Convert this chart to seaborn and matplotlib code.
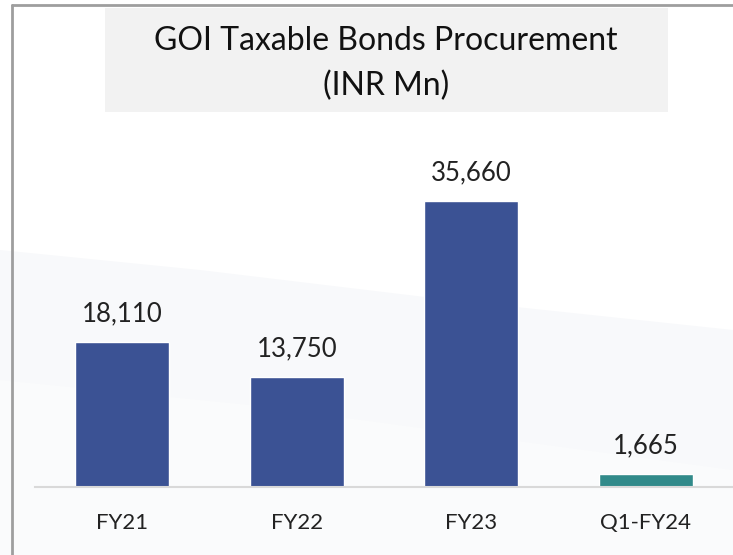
import matplotlib
matplotlib.use("Agg")
import matplotlib.pyplot as plt
import seaborn as sns
import pandas as pd
from matplotlib.patches import Rectangle, Polygon

# -------------------------------
# Data
# -------------------------------
periods = ["FY21", "FY22", "FY23", "Q1-FY24"]
procurement = [18110, 13750, 35660, 1665]
bar_colors = ["#3B5294", "#3B5294", "#3B5294", "#318A8A"]

df = pd.DataFrame({"period": periods, "value": procurement})

sns.set_theme(style="white")
plt.rcParams["font.family"] = ["Lato", "DejaVu Sans"]

W, H = 733, 555
fig = plt.figure(figsize=(W / 100, H / 100), dpi=100)
fig.patch.set_facecolor("white")

# -------------------------------
# Background decorations (pixel coords, y from top)
# -------------------------------
bg = fig.add_axes([0, 0, 1, 1], zorder=-1)
bg.set_xlim(0, W)
bg.set_ylim(H, 0)
bg.axis("off")

bg.add_patch(Polygon([(0, 250), (200, 270), (450, 300), (733, 330),
                      (733, 555), (0, 555)],
                     closed=True, facecolor="#F8F9FB", edgecolor="none"))
bg.add_patch(Polygon([(0, 380), (250, 405), (733, 470), (733, 555), (0, 555)],
                     closed=True, facecolor="#FAFBFC", edgecolor="none"))
bg.plot([12, 733], [5, 5], color="#9E9E9E", lw=2)
bg.plot([12, 12], [5, 555], color="#9E9E9E", lw=2)

bg.add_patch(Rectangle((105, 8), 563, 104, facecolor="#F2F2F2",
                       edgecolor="none"))
bg.text(386, 41, "GOI Taxable Bonds Procurement",
        ha="center", va="center", fontsize=23, color="#111111")
bg.text(386, 86, "(INR Mn)",
        ha="center", va="center", fontsize=23, color="#111111")

# -------------------------------
# Bars
# -------------------------------
ax = fig.add_axes([35 / W, 68 / H, 1 - 35 / W, 359 / H])
ax.set_facecolor("none")
sns.barplot(data=df, x="period", y="value", hue="period",
            palette=bar_colors, width=0.54, legend=False, ax=ax,
            saturation=1)

for cont in ax.containers:
    ax.bar_label(cont, labels=[f"{v:,.0f}" for v in cont.datavalues],
                 padding=11, fontsize=18.5, color="#222222")

ax.set_xlim(-0.5, 3.5)
ax.set_ylim(0, 44762)
ax.set_xlabel("")
ax.set_ylabel("")
ax.set_yticks([])
ax.tick_params(axis="x", length=0, pad=19, labelsize=16, labelcolor="#222222")
for s in ["top", "right", "left"]:
    ax.spines[s].set_visible(False)
ax.spines["bottom"].set_color("#D9D9D9")
ax.spines["bottom"].set_linewidth(1.5)

fig.savefig("out.png", dpi=100)
